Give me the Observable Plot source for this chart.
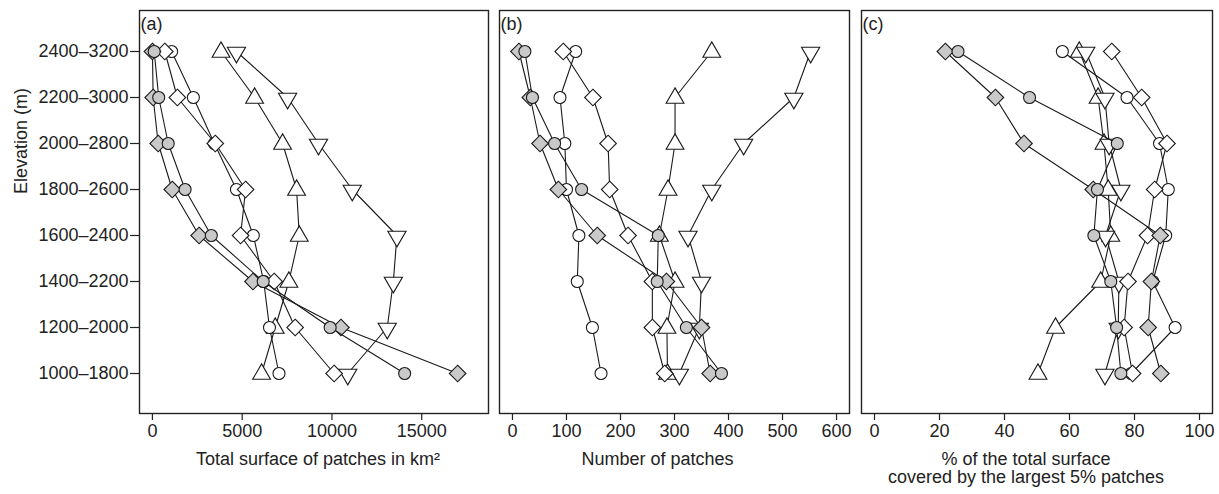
<!DOCTYPE html>
<html><head><meta charset="utf-8">
<script src="https://cdn.jsdelivr.net/npm/d3@7"></script>
<script src="https://cdn.jsdelivr.net/npm/@observablehq/plot@0.6"></script>
<style>
html,body{margin:0;padding:0;background:#fff;}
#wrap{position:relative;width:1219px;height:494px;overflow:hidden;background:#fff;}
#wrap svg{position:absolute;top:0;}
</style></head><body><div id="wrap"></div>
<script>
// Elevation bands (top to bottom)
const elevation = ["2400–3200","2200–3000","2000–2800","1800–2600","1600–2400","1400–2200","1200–2000","1000–1800"];

// (a) Total surface of patches (km²)
const surfOpenCircle  = [1070, 2280, 3450, 4680, 5620, 6200, 6520, 7050];
const surfGreyCircle  = [100, 350, 880, 1820, 3280, 6170, 9900, 14050];
const surfOpenDiamond = [690, 1390, 3500, 5190, 4910, 6780, 7950, 10120];
const surfGreyDiamond = [0, 40, 320, 1105, 2600, 5600, 10500, 17000];
const surfTriUp       = [3820, 5690, 7250, 8030, 8180, 7600, 6840, 6080];
const surfTriDown     = [4680, 7530, 9250, 11130, 13620, 13420, 13080, 10880];

// (b) Number of patches
const numOpenCircle  = [117, 88, 97, 100, 123, 120, 148, 164];
const numGreyCircle  = [23, 37, 78, 128, 270, 268, 322, 387];
const numOpenDiamond = [94, 149, 177, 180, 214, 259, 259, 282];
const numGreyDiamond = [12, 33, 51, 85, 157, 285, 350, 366];
const numTriUp       = [369, 301, 301, 288, 272, 301, 286, 287];
const numTriDown     = [552, 521, 428, 369, 325, 350, 346, 309];

// (c) % of total surface covered by the largest 5% patches
const pctOpenCircle  = [57.8, 77.7, 87.7, 90.4, 89.6, 85.6, 92.5, 79.0];
const pctGreyCircle  = [25.7, 47.7, 74.7, 68.6, 67.5, 72.7, 74.5, 75.8];
const pctOpenDiamond = [73.0, 82.2, 90.0, 86.2, 84.0, 78.0, 76.8, 79.4];
const pctGreyDiamond = [21.8, 37.2, 46.0, 67.3, 87.9, 85.2, 84.2, 88.1];
const pctTriUp       = [63.0, 68.8, 70.6, 71.9, 72.7, 69.6, 55.7, 50.3];
const pctTriDown     = [65.0, 70.9, 72.2, 75.8, 71.1, 75.2, 75.0, 70.9];

// Axis ticks and labels
const ticksA = [0, 5000, 10000, 15000];
const ticksB = [0, 100, 200, 300, 400, 500, 600];
const ticksC = [0, 20, 40, 60, 80, 100];
const labelA = "Total surface of patches in km²";
const labelB = "Number of patches";
const labelC = "% of the total surface\ncovered by the largest 5% patches";
const yLabel = "Elevation (m)";

// custom symbols
const triUpSym = {draw(ctx, size){const k=Math.sqrt(size/Math.PI)/6;ctx.moveTo(0,-9.6*k);ctx.lineTo(8.9*k,5.8*k);ctx.lineTo(-8.9*k,5.8*k);ctx.closePath();}};
const triDownSym = {draw(ctx, size){const k=Math.sqrt(size/Math.PI)/6;ctx.moveTo(0,11.4*k);ctx.lineTo(9.1*k,-4.3*k);ctx.lineTo(-9.1*k,-4.3*k);ctx.closePath();}};
const diamondSym = {draw(ctx, size){const k=Math.sqrt(size/Math.PI)/6;ctx.moveTo(0,-8.3*k);ctx.lineTo(8.3*k,0);ctx.lineTo(0,8.3*k);ctx.lineTo(-8.3*k,0);ctx.closePath();}};

const GREY = "#c9c9c9";
const INK = "#1a1a1a";

function makeSeries(v){
  // drawing order
  return [
    {vals: v.triUp, symbol: triUpSym, fill: "white"},
    {vals: v.triDown, symbol: triDownSym, fill: "white"},
    {vals: v.openCircle, symbol: "circle", fill: "white"},
    {vals: v.openDiamond, symbol: diamondSym, fill: "white"},
    {vals: v.greyDiamond, symbol: diamondSym, fill: GREY},
    {vals: v.greyCircle, symbol: "circle", fill: GREY}
  ];
}

function panel(o){
  const marks = [Plot.frame({stroke: "#222", strokeWidth: 1.4})];
  marks.push(Plot.axisX({ticks: o.ticks, tickSize: 7, tickPadding: 4, tickFormat: "d", label: null, stroke: "#222", strokeWidth: 1.2}));
  if (o.yAxis) {
    marks.push(Plot.axisY({tickSize: 9, tickPadding: 2, label: null, stroke: "#222", strokeWidth: 1.2}));
    marks.push(Plot.text([yLabel], {frameAnchor: "left", rotate: -90, dx: -118, dy: -18, fill: "#222"}));
  } else {
    marks.push(Plot.axisY({ticks: [], label: null}));
  }
  for (const s of makeSeries(o.values)) {
    const rows = elevation.map((e, i) => ({elevation: e, value: s.vals[i]}));
    marks.push(Plot.line(rows, {x: "value", y: "elevation", stroke: INK, strokeWidth: 1.1}));
    marks.push(Plot.dot(rows, {x: "value", y: "elevation", symbol: s.symbol, r: 6, fill: s.fill, stroke: INK, strokeWidth: 1.1}));
  }
  marks.push(Plot.text([o.tag], {frameAnchor: "top-left", dx: 1, dy: 7, textAnchor: "start", lineAnchor: "top", fill: "#222"}));
  marks.push(Plot.text([o.label], {frameAnchor: "bottom", dx: o.labelDx, dy: 39, lineAnchor: "top", lineHeight: 1.0, fill: "#222"}));
  const svg = Plot.plot({
    width: o.width, height: 494,
    marginLeft: o.marginLeft, marginRight: o.marginRight, marginTop: 10, marginBottom: 81,
    style: {fontFamily: "'Liberation Sans', Arial, sans-serif", fontSize: "18px", color: "#222", background: "white", overflow: "visible"},
    x: {domain: o.domain},
    y: {type: "point", domain: elevation, padding: 0.8},
    marks
  });
  svg.style.left = o.left + "px";
  document.getElementById("wrap").appendChild(svg);
}

panel({values: {openCircle: surfOpenCircle, greyCircle: surfGreyCircle, openDiamond: surfOpenDiamond, greyDiamond: surfGreyDiamond, triUp: surfTriUp, triDown: surfTriDown},
  domain: [-720, 18720], ticks: ticksA, label: labelA, tag: "(a)", width: 494, marginLeft: 139, marginRight: 6, left: 0, yAxis: true, labelDx: 4});
panel({values: {openCircle: numOpenCircle, greyCircle: numGreyCircle, openDiamond: numOpenDiamond, greyDiamond: numGreyDiamond, triUp: numTriUp, triDown: numTriDown},
  domain: [-24, 624], ticks: ticksB, label: labelB, tag: "(b)", width: 361, marginLeft: 5, marginRight: 6, left: 494, yAxis: false, labelDx: -17});
panel({values: {openCircle: pctOpenCircle, greyCircle: pctGreyCircle, openDiamond: pctOpenDiamond, greyDiamond: pctGreyDiamond, triUp: pctTriUp, triDown: pctTriDown},
  domain: [-4, 104], ticks: ticksC, label: labelC, tag: "(c)", width: 364, marginLeft: 6, marginRight: 7, left: 855, yAxis: false, labelDx: -11});
</script></body></html>
